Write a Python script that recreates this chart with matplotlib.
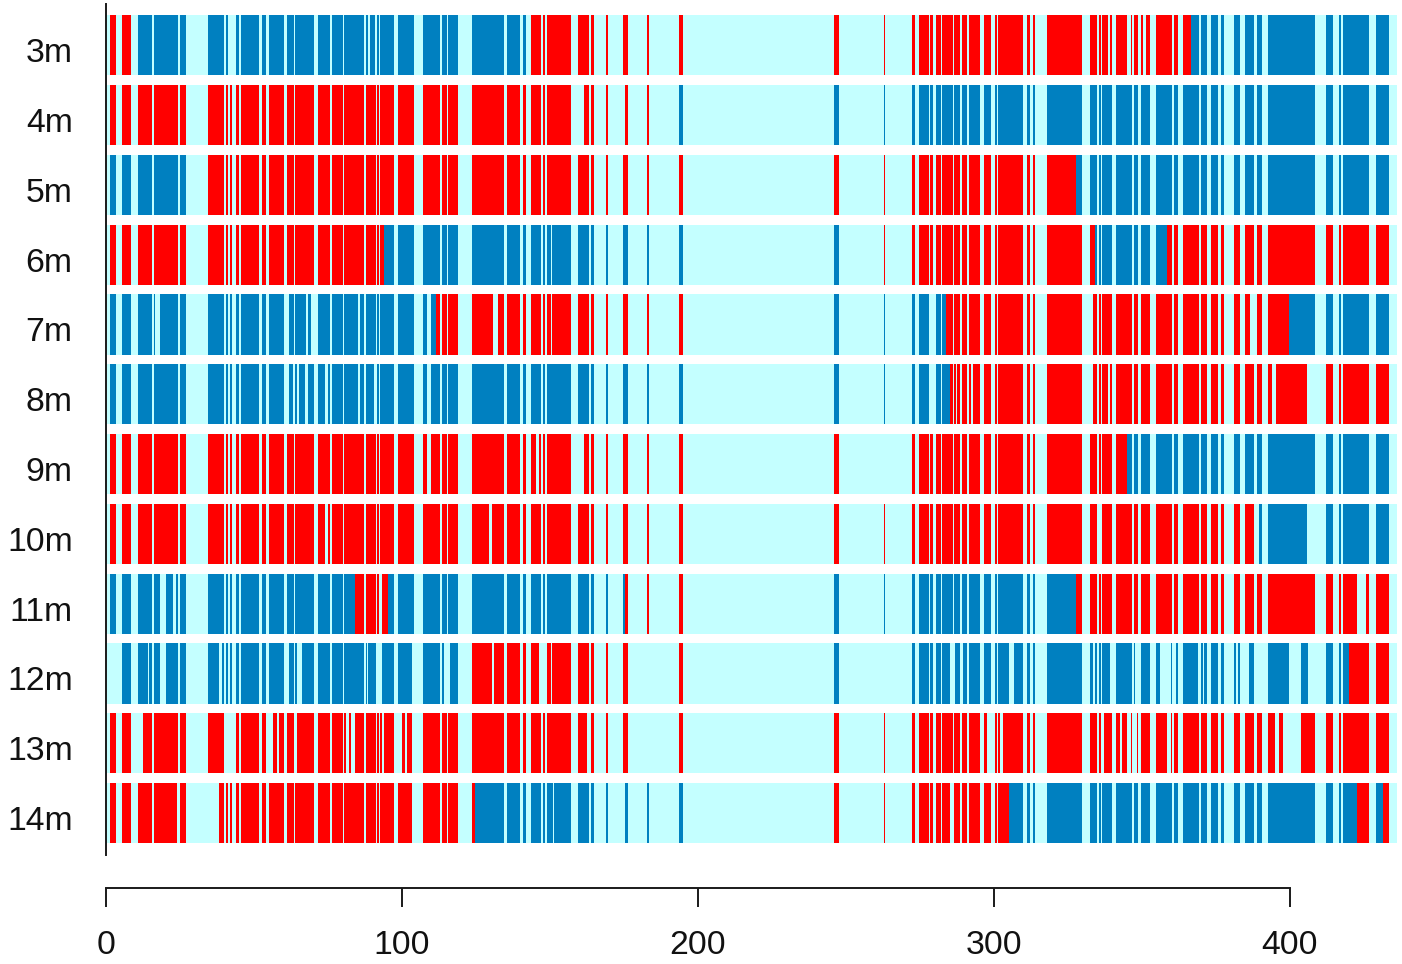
import matplotlib
matplotlib.use("Agg")
import matplotlib.pyplot as plt


# ==========================
# Data
# ==========================

ROW_LABELS = ["3m", "4m", "5m", "6m", "7m", "8m", "9m", "10m", "11m", "12m", "13m", "14m"]

X_END = 435.8
X_TICKS = [0, 100, 200, 300, 400]

# sites that carry a state in most rows
SITES = [
    (1.35, 3.5), (5.3, 8.56), (10.7, 15.5), (16.1, 24.3), (24.9, 27.1), (34.5, 39.9),
    (40.5, 41.3), (41.9, 42.7), (43.9, 44.9), (45.5, 51.8), (52.7, 54), (55.2, 60.1),
    (61.1, 63.4), (63.9, 70.4), (71.7, 75.8), (76.5, 80.1), (80.5, 87.2), (87.7, 91.1),
    (91.6, 92.3), (92.7, 97.2), (98.6, 104), (107, 112.8), (113.5, 115.1), (115.5, 119),
    (123.5, 134.35), (135.6, 140), (140.9, 141.9), (143.5, 147), (147.6, 148.4), (149, 157.1),
    (159.6, 163.2), (164, 164.9), (168.9, 169.6), (174.8, 176.35), (182.8, 183.4), (193.6, 194.8),
    (245.9, 247.6), (262.8, 263.3), (272.3, 273.4), (274.5, 277.9), (278.4, 279.4), (280.5, 282),
    (282.4, 286.1), (286.6, 288.6), (289.2, 290.4), (290.6, 290.9), (291.5, 295.4), (296.7, 298.9),
    (300.4, 301), (301.3, 309.9), (311, 312.3), (313.2, 313.8), (317.9, 329.8), (332.6, 334.9),
    (335.6, 336), (336.6, 340), (341.1, 346.7), (347.2, 347.6), (347.8, 348.5), (349.5, 352.7),
    (354.7, 360.2), (360.8, 362.3), (364, 369.4), (370, 372), (373.3, 375.7), (376.7, 377.6),
    (381.1, 383.2), (384.8, 387.8), (389, 390.5), (392.6, 408.5), (412, 414.5), (416.5, 417.1),
    (418, 426.8), (429, 433.4),
]

# per row: stretches where the sites above are empty
missing_3m = [(88.4, 89.2), (90.8, 91.1), (41.8, 42.8), (338.6, 339.2), (344.9, 346.3), (350.5, 351.5)]
missing_4m = [(159.6, 161.4), (174.8, 175.5)]
missing_5m = []
missing_6m = [(150.2, 150.8)]
missing_7m = [(16.55, 18.24), (61.1, 61.9), (67.7, 68.2), (69.1, 70.4), (85.2, 85.8), (108.5, 109.7),
              (130.85, 132.4), (150.2, 150.8), (278.2, 279.6), (332.6, 333.5), (386.5, 387.8)]
missing_8m = [(61.1, 61.9), (63.1, 63.9), (64.4, 65.2), (67.2, 68.2), (74, 75), (85.2, 85.8), (90.65, 91.1),
              (108.5, 109.7), (278.2, 279.6), (287.1, 287.6), (292.2, 292.9), (332.6, 333.5),
              (338.6, 339.2), (393.8, 395.2), (405.8, 408.5)]
missing_9m = [(108.5, 109.7), (145.4, 146.3), (159.6, 161.4), (262.5, 263.6)]
missing_10m = [(74, 75), (129.4, 130.5), (335.2, 336.4), (389, 389.6), (405.8, 408.5)]
missing_11m = [(18.35, 20.2), (22.6, 23.8), (24.2, 24.9), (92.7, 93.4), (422.7, 425.6)]
missing_12m = [(0, 5), (14.1, 14.5), (18.35, 20.2), (38.2, 39.2), (61.1, 61.9), (64.4, 66.2), (88.2, 88.5),
               (91.1, 93.4), (103.3, 104), (114.2, 116.2), (130.4, 131), (146.3, 149), (150.3, 150.8),
               (182.5, 183.6), (262.5, 263.6), (285.2, 286.7), (288.6, 289.6), (304.9, 306.7),
               (333.3, 334.1), (339.2, 341.1), (347.6, 348.6), (356.2, 359.7), (360.2, 361.4), (369, 370),
               (370.5, 371), (381.9, 382.4), (383.2, 386.1), (387.8, 392.6), (399.7, 403.6), (406, 412)]
missing_13m = [(10.5, 12.5), (39.9, 43.9), (54, 56.5), (57.8, 58.4), (63.4, 64.5), (81.1, 82.2), (82.8, 84.1),
               (93.2, 94), (97.2, 100), (101, 101.7), (103.3, 107), (162.5, 163.2), (182.5, 183.6),
               (297.6, 299), (302, 302.9), (336, 337), (342.6, 343.2), (344.9, 346.3), (346.7, 348.2),
               (358.3, 359.7), (395.1, 396.3), (397.6, 403.6)]
missing_14m = [(23.9, 24.9), (27, 38.2), (103.3, 104), (150.9, 151.5), (174.8, 175.5), (285.2, 286.6)]

row_missing = [missing_3m, missing_4m, missing_5m, missing_6m, missing_7m, missing_8m,
               missing_9m, missing_10m, missing_11m, missing_12m, missing_13m, missing_14m]

# per row: (position where the state starts, state)
states_3m = [(0, "r"), (10, "b"), (142.5, "r"), (366.5, "b")]
states_4m = [(0, "r"), (193, "b")]
states_5m = [(0, "b"), (30, "r"), (327.6, "b")]
states_6m = [(0, "r"), (93.8, "b"), (250, "r"), (334.1, "b"), (358.4, "r")]
states_7m = [(0, "b"), (111.4, "r"), (200, "b"), (283.7, "r"), (399.8, "b")]
states_8m = [(0, "b"), (285.1, "r")]
states_9m = [(0, "r"), (344.9, "b")]
states_10m = [(0, "r"), (388.7, "b")]
states_11m = [(0, "b"), (84.1, "r"), (95.4, "b"), (175.4, "r"), (240, "b"), (327.6, "r")]
states_12m = [(0, "b"), (122, "r"), (200, "b"), (419.8, "r")]
states_13m = [(0, "r")]
states_14m = [(0, "r"), (124.66, "b"), (200, "r"), (305.1, "b"), (422.7, "r"), (429, "b"), (431.5, "r")]

row_states = [states_3m, states_4m, states_5m, states_6m, states_7m, states_8m,
              states_9m, states_10m, states_11m, states_12m, states_13m, states_14m]


# ==========================
# Style
# ==========================

plt.rcParams["font.family"] = ["Liberation Sans", "DejaVu Sans"]

COLORS = {"r": "#FF0000", "b": "#0080C0"}
EMPTY = "#C4FFFF"
INK = "#1A1A1A"
BAR_HEIGHT = 0.86
LABEL_DROP = 0.07    # row labels sit a little under the middle of the strip


def subtract(start, end, holes):
    pieces = [(start, end)]
    for h0, h1 in holes:
        kept = []
        for p0, p1 in pieces:
            if h1 <= p0 or h0 >= p1:
                kept.append((p0, p1))
                continue
            if h0 > p0:
                kept.append((p0, h0))
            if h1 < p1:
                kept.append((h1, p1))
        pieces = kept
    return pieces


# ==========================
# Figure
# ==========================

W, H = 1402, 964
fig = plt.figure(figsize=(W / 100, H / 100), dpi=100)

# axes area in pixels: x 106..1398, y 4..855
ax = fig.add_axes([106 / W, 1 - 855 / H, (1398 - 106) / W, (855 - 4) / H])
ax.set_xlim(0, (1398 - 106) / 2.96)
ax.set_ylim((855 - 45.3) / 69.8, (4 - 45.3) / 69.8)

for row, (holes, states) in enumerate(zip(row_missing, row_states)):

    ax.barh(row, X_END, left=0.2, height=BAR_HEIGHT, color=EMPTY, linewidth=0)

    for i, (state_start, state) in enumerate(states):

        state_end = states[i + 1][0] if i + 1 < len(states) else X_END
        spans = []

        for s0, s1 in SITES:
            s0 = max(s0, state_start)
            s1 = min(s1, state_end)
            if s1 > s0:
                spans.extend(subtract(s0, s1, holes))

        ax.broken_barh(
            [(a, b - a) for a, b in spans],
            (row - BAR_HEIGHT / 2, BAR_HEIGHT),
            facecolor=COLORS[state],
            linewidth=0
        )

for name in ["top", "right"]:
    ax.spines[name].set_visible(False)

ax.spines["left"].set_linewidth(1.4)
ax.spines["left"].set_color(INK)

ax.spines["bottom"].set_position(("outward", 23.6))
ax.spines["bottom"].set_bounds(0, 400)
ax.spines["bottom"].set_linewidth(1.4)
ax.spines["bottom"].set_color(INK)

ax.set_xticks(X_TICKS)
ax.tick_params(axis="x", length=13.7, width=1.4, color=INK, labelsize=24.3, pad=17, labelcolor="#111111")

ax.set_yticks([r + LABEL_DROP for r in range(len(ROW_LABELS))])
ax.set_yticklabels(ROW_LABELS)
ax.tick_params(axis="y", length=0, labelsize=24.3, pad=24, labelcolor="#111111")

fig.savefig("out.png", dpi=100)
